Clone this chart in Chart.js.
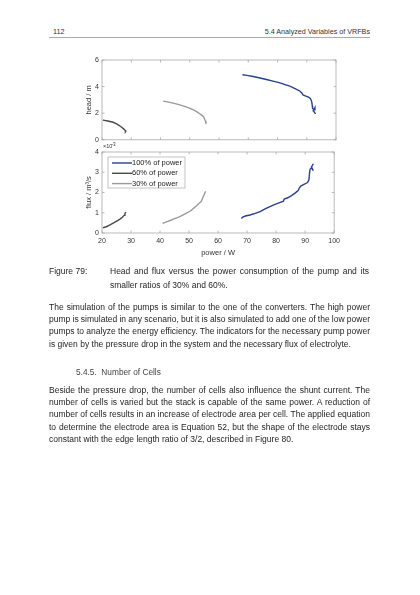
<!DOCTYPE html>
<html>
<head>
<meta charset="utf-8">
<script src="https://cdn.jsdelivr.net/npm/chart.js@4.4.1/dist/chart.umd.min.js"></script>
<style>
  html, body { margin: 0; padding: 0; background: #fff; }
  body { width: 420px; height: 595px; position: relative; overflow: hidden;
         font-family: "Liberation Sans", Arial, sans-serif; color: #1e1e1e; }
  .abs { position: absolute; }
  .hdr { font-size: 7.2px; line-height: 8px; color: #333; }
  .rule { left: 49px; top: 37px; width: 321px; height: 0; border-top: 0.8px solid #aaa; }
  .txt { font-size: 8.5px; line-height: 12.35px; }
  .txt div { white-space: nowrap; }
  .wrap { position: absolute; }
</style>
</head>
<body>

<div class="abs hdr" style="left:53px; top:28px;">112</div>
<div class="abs hdr" style="left:200px; top:28px; width:170px; text-align:right;">5.4 Analyzed Variables of VRFBs</div>
<div class="abs rule"></div>

<div class="wrap" style="left:84px; top:50px; width:260px; height:97px;"><canvas id="headChart"></canvas></div>
<div class="wrap" style="left:84px; top:140px; width:260px; height:118px;"><canvas id="fluxChart"></canvas></div>

<div class="abs txt" style="left:49px; top:265.3px; line-height:13.4px;">Figure 79:</div>
<div class="abs txt" style="left:110px; top:265.3px; width:259px; line-height:13.4px;">
  <div class="j">Head and flux versus the power consumption of the pump and its</div>
  <div>smaller ratios of 30% and 60%.</div>
</div>

<div class="abs txt" style="left:49px; top:300.8px; width:321px;">
  <div class="j">The simulation of the pumps is similar to the one of the converters. The high power</div>
  <div class="j">pump is simulated in any scenario, but it is also simulated to add one of the low power</div>
  <div class="j">pumps to analyze the energy efficiency. The indicators for the necessary pump power</div>
  <div>is given by the pressure drop in the system and the necessary flux of electrolyte.</div>
</div>

<div class="abs txt" style="left:76px; top:365.8px; color:#444; font-size:8.3px;">5.4.5.&nbsp; Number of Cells</div>

<div class="abs txt" style="left:49px; top:383.8px; width:321px;">
  <div class="j">Beside the pressure drop, the number of cells also influence the shunt current. The</div>
  <div class="j">number of cells is varied but the stack is capable of the same power. A reduction of</div>
  <div class="j">number of cells results in an increase of electrode area per cell. The applied equation</div>
  <div class="j">to determine the electrode area is Equation 52, but the shape of the electrode stays</div>
  <div>constant with the edge length ratio of 3/2, described in Figure 80.</div>
</div>

<script>
// justify each full line to the column width by adjusting word spacing
document.querySelectorAll('.j').forEach(el => {
    const text = el.textContent.trim();
    const span = document.createElement('span');
    span.textContent = text;
    el.textContent = '';
    el.appendChild(span);
    const natural = span.getBoundingClientRect().width;
    const gaps = (text.match(/ /g) || []).length;
    const target = el.parentElement.clientWidth;
    if (gaps) span.style.wordSpacing = ((target - natural) / gaps) + 'px';
});
</script>

<script>
// series labels, in legend order
const seriesLabels = ['100% of power', '60% of power', '30% of power'];

// head / m over power / W
const power100Head = [68.0, 69.5, 71.7, 74.0, 76.2, 78.5, 80.5, 81.9, 82.3, 84.0, 85.3, 86.5, 87.6, 88.3, 88.7, 89.5, 90.4, 91.0, 91.4, 91.7, 91.9, 92.0, 92.5, 92.8, 92.2, 92.6, 93.0];
const head100      = [4.89, 4.84, 4.76, 4.65, 4.53, 4.41, 4.30, 4.21, 4.16, 4.05, 3.93, 3.80, 3.67, 3.52, 3.38, 3.30, 3.22, 3.16, 3.05, 2.85, 2.55, 2.35, 2.25, 2.42, 2.18, 2.08, 1.95];
const power60Head  = [20.3, 22.0, 23.8, 25.0, 25.8, 26.6, 27.3, 27.8, 28.1, 28.0, 28.3];
const head60       = [1.48, 1.41, 1.32, 1.20, 1.09, 0.96, 0.84, 0.74, 0.66, 0.62, 0.58];
const power30Head  = [40.9, 42.5, 44.3, 46.0, 47.7, 49.5, 51.1, 52.5, 53.4, 54.3, 54.8, 55.1, 55.3, 55.6, 55.4, 55.7];
const head30       = [2.91, 2.85, 2.76, 2.66, 2.55, 2.42, 2.27, 2.10, 1.96, 1.82, 1.70, 1.55, 1.42, 1.35, 1.28, 1.20];

// flux / 1e-3 m^3/s over power / W
const power100Flux = [68.0, 68.5, 69.4, 71.0, 72.8, 74.5, 76.2, 77.5, 79.6, 81.0, 82.5, 82.8, 84.0, 85.3, 86.5, 87.6, 88.0, 88.5, 89.9, 90.8, 91.3, 91.5, 91.7, 92.2, 92.8, 92.2, 92.8];
const flux100      = [0.72, 0.79, 0.84, 0.89, 0.97, 1.06, 1.19, 1.28, 1.41, 1.49, 1.57, 1.68, 1.74, 1.85, 1.97, 2.10, 2.22, 2.32, 2.42, 2.49, 2.62, 2.95, 3.15, 3.22, 3.08, 3.26, 3.42];
const power60Flux  = [20.3, 21.5, 22.6, 24.3, 25.5, 26.3, 27.0, 27.6, 27.9, 28.2];
const flux60       = [0.26, 0.31, 0.39, 0.52, 0.62, 0.70, 0.78, 0.87, 0.95, 1.04];
const power30Flux  = [40.9, 42.0, 43.7, 45.0, 46.6, 48.0, 49.4, 50.7, 51.7, 52.6, 53.4, 54.2, 54.6, 55.1, 55.4, 55.7];
const flux30       = [0.47, 0.54, 0.63, 0.71, 0.80, 0.90, 1.00, 1.11, 1.24, 1.35, 1.46, 1.55, 1.70, 1.86, 1.96, 2.06];

const xTicks = [20, 30, 40, 50, 60, 70, 80, 90, 100];

const lineColors = ['#27408f', '#4a4a4a', '#9a9a9a'];
const axisColor = '#a8a8a8';
const textColor = '#333';
const fontFamily = '"Liberation Sans", Arial, sans-serif';

const toPoints = (xs, ys) => xs.map((x, i) => ({ x: x, y: ys[i] }));

function makeDatasets(series) {
    return series.map((pts, i) => ({
        label: seriesLabels[i],
        data: pts,
        borderColor: lineColors[i],
        borderWidth: 1.4,
        pointRadius: 0,
        tension: 0,
        fill: false
    }));
}

// MATLAB-like box with inward ticks on all four sides
const boxPlugin = {
    id: 'matlabBox',
    beforeDatasetsDraw(chart) {
        const { ctx, chartArea: a, scales } = chart;
        const len = 2.5;
        ctx.save();
        ctx.strokeStyle = axisColor;
        ctx.lineWidth = 0.8;
        ctx.strokeRect(a.left, a.top, a.right - a.left, a.bottom - a.top);
        ctx.beginPath();
        scales.x.ticks.forEach(t => {
            const px = scales.x.getPixelForValue(t.value);
            ctx.moveTo(px, a.bottom); ctx.lineTo(px, a.bottom - len);
            ctx.moveTo(px, a.top); ctx.lineTo(px, a.top + len);
        });
        scales.y.ticks.forEach(t => {
            const py = scales.y.getPixelForValue(t.value);
            ctx.moveTo(a.left, py); ctx.lineTo(a.left + len, py);
            ctx.moveTo(a.right, py); ctx.lineTo(a.right - len, py);
        });
        ctx.stroke();
        ctx.restore();
    }
};

// legend box in the upper left corner of the flux plot
const boxLegend = {
    id: 'boxLegend',
    afterDatasetsDraw(chart) {
        const { ctx, chartArea: a } = chart;
        const x0 = a.left + 6, y0 = a.top + 5;
        ctx.save();
        ctx.fillStyle = '#fff';
        ctx.fillRect(x0, y0, 77, 31);
        ctx.strokeStyle = '#9a9a9a';
        ctx.lineWidth = 0.6;
        ctx.strokeRect(x0, y0, 77, 31);
        ctx.font = '7.5px ' + fontFamily;
        ctx.textBaseline = 'middle';
        chart.data.datasets.forEach((ds, i) => {
            const y = y0 + 6 + i * 10.3;
            ctx.strokeStyle = ds.borderColor;
            ctx.lineWidth = 1.4;
            ctx.beginPath();
            ctx.moveTo(x0 + 4, y);
            ctx.lineTo(x0 + 24, y);
            ctx.stroke();
            ctx.fillStyle = '#222';
            ctx.fillText(ds.label, x0 + 24, y);
        });
        ctx.restore();
    }
};

// exponent label above the flux axis
const exponentLabel = {
    id: 'exponentLabel',
    afterDraw(chart) {
        const { ctx, chartArea: a } = chart;
        ctx.save();
        ctx.font = '5.5px ' + fontFamily;
        ctx.fillStyle = textColor;
        ctx.textBaseline = 'middle';
        ctx.fillText('\u00d710', a.left + 1, a.top - 5.5);
        ctx.font = '4.5px ' + fontFamily;
        ctx.fillText('-3', a.left + 9.5, a.top - 7.5);
        ctx.restore();
    }
};

function axisOptions(showX, yMax, yStep, yTitle) {
    return {
        x: {
            type: 'linear', min: 20, max: 100,
            afterBuildTicks: s => { s.ticks = xTicks.map(v => ({ value: v })); },
            afterFit: s => { s.height = showX ? 25 : 6; },
            grid: { display: false, drawTicks: false },
            border: { display: false },
            ticks: { display: showX, padding: 4, color: textColor, font: { family: fontFamily, size: 7 } },
            title: { display: showX, text: 'power / W', color: textColor, padding: { top: 0, bottom: 1 },
                     font: { family: fontFamily, size: 7.5 } }
        },
        y: {
            min: 0, max: yMax,
            afterFit: s => { s.width = 18; },
            grid: { display: false, drawTicks: false },
            border: { display: false },
            ticks: { stepSize: yStep, padding: 3, color: textColor, font: { family: fontFamily, size: 7 } },
            title: { display: true, text: yTitle, color: textColor, padding: { top: 0, bottom: 0 },
                     font: { family: fontFamily, size: 7.5 } }
        }
    };
}

const commonPlugins = { legend: { display: false }, tooltip: { enabled: false } };

new Chart(document.getElementById('headChart'), {
    type: 'line',
    data: {
        datasets: makeDatasets([
            toPoints(power100Head, head100),
            toPoints(power60Head, head60),
            toPoints(power30Head, head30)
        ])
    },
    options: {
        responsive: true,
        maintainAspectRatio: false,
        animation: false,
        events: [],
        layout: { padding: { top: 10, right: 8, left: 0, bottom: 0 } },
        plugins: commonPlugins,
        scales: axisOptions(false, 6, 2, 'head / m')
    },
    plugins: [boxPlugin]
});

new Chart(document.getElementById('fluxChart'), {
    type: 'line',
    data: {
        datasets: makeDatasets([
            toPoints(power100Flux, flux100),
            toPoints(power60Flux, flux60),
            toPoints(power30Flux, flux30)
        ])
    },
    options: {
        responsive: true,
        maintainAspectRatio: false,
        animation: false,
        events: [],
        layout: { padding: { top: 12, right: 8, left: 0, bottom: 0 } },
        plugins: commonPlugins,
        scales: axisOptions(true, 4, 1, 'flux / m\u00b3/s')
    },
    plugins: [boxPlugin, boxLegend, exponentLabel]
});
</script>
</body>
</html>
